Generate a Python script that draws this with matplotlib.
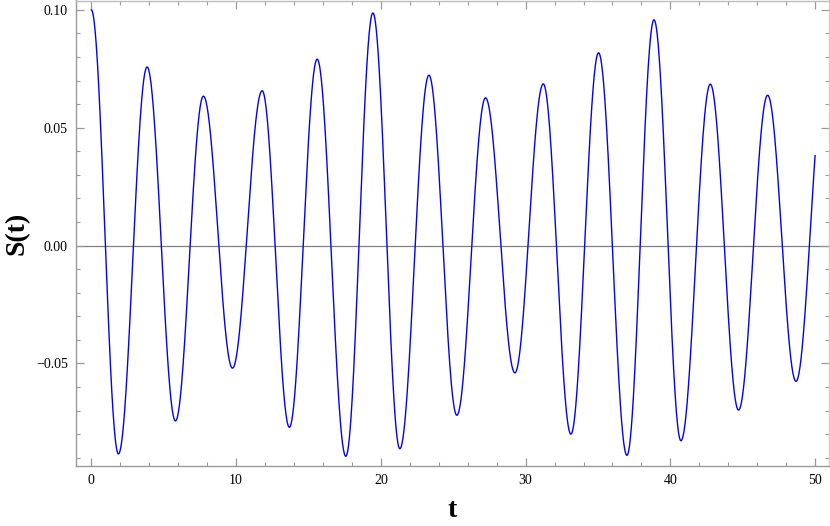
import numpy as np
import matplotlib
matplotlib.use("Agg")
import matplotlib.pyplot as plt
from matplotlib.ticker import MultipleLocator, FixedLocator

# Extrema of S(t) (time, value)
ext_t = [0.0, 1.87, 3.85, 5.81, 7.74, 9.75, 11.80, 13.68, 15.60, 17.58,
         19.45, 21.31, 23.32, 25.25, 27.23, 29.26, 31.22, 33.13, 35.04,
         37.00, 38.87, 40.73, 42.76, 44.71, 46.72, 48.68, 50.63]
ext_v = [0.1000, -0.0884, 0.0758, -0.0744, 0.0634, -0.0520, 0.0657, -0.0771,
         0.0791, -0.0894, 0.0987, -0.0862, 0.0723, -0.0720, 0.0627, -0.0540,
         0.0686, -0.0800, 0.0818, -0.0890, 0.0958, -0.0828, 0.0685, -0.0698,
         0.0638, -0.0576, 0.0678]
t_max = 50.0

x_ticks = [0, 10, 20, 30, 40, 50]
y_ticks = [-0.05, 0.00, 0.05, 0.10]
y_ticklabels = ["\u22120.05", "0.00", "0.05", "0.10"]

# smooth curve passing through extrema (half-cosine between neighbours)
t = np.linspace(0, t_max, 3000)
et = np.array(ext_t)
ev = np.array(ext_v)
idx = np.clip(np.searchsorted(et, t, side="right") - 1, 0, len(et) - 2)
u = (t - et[idx]) / (et[idx + 1] - et[idx])
s = ev[idx] + (ev[idx + 1] - ev[idx]) * (1 - np.cos(np.pi * u)) / 2

plt.rcParams["font.family"] = ["Liberation Serif", "DejaVu Serif"]

fig = plt.figure(figsize=(8.30, 5.26), dpi=100)
ax = fig.add_axes([76.3 / 830, 1 - 465.7 / 526, (829 - 76.3) / 830, (465.7 - 0.5) / 526])

ax.axhline(0, color="#808080", lw=0.9, zorder=1)
ax.plot(t, s, color="#0000ff", lw=1.0, zorder=2)

ax.set_xlim(-1.04, 50.96)
ax.set_ylim(-0.0934, 0.104)

ax.xaxis.set_major_locator(FixedLocator(x_ticks))
ax.xaxis.set_minor_locator(MultipleLocator(2))
ax.yaxis.set_major_locator(FixedLocator(y_ticks))
ax.set_yticklabels(y_ticklabels)
ax.yaxis.set_minor_locator(MultipleLocator(0.01))

gray = "#9a9a9a"
for sp in ax.spines.values():
    sp.set_color(gray)
    sp.set_linewidth(1.0)
ax.spines["right"].set_color("#cfcfcf")
ax.spines["top"].set_color("#bdbdbd")

ax.tick_params(which="both", direction="in", top=True, right=True, color=gray,
               labelsize=10, labelcolor="black", pad=6)
ax.tick_params(which="major", length=6, width=0.9)
ax.tick_params(which="minor", length=3, width=0.8)

ax.set_xlabel("t", fontsize=20, fontweight="bold", va="center", ha="center")
ax.set_ylabel("S(t)", fontsize=20, fontweight="bold", va="center", ha="center")
ax.xaxis.set_label_coords(0.4987, -0.097)
ax.yaxis.set_label_coords(-0.0788, 0.4997)

fig.savefig("out.png", dpi=100)
